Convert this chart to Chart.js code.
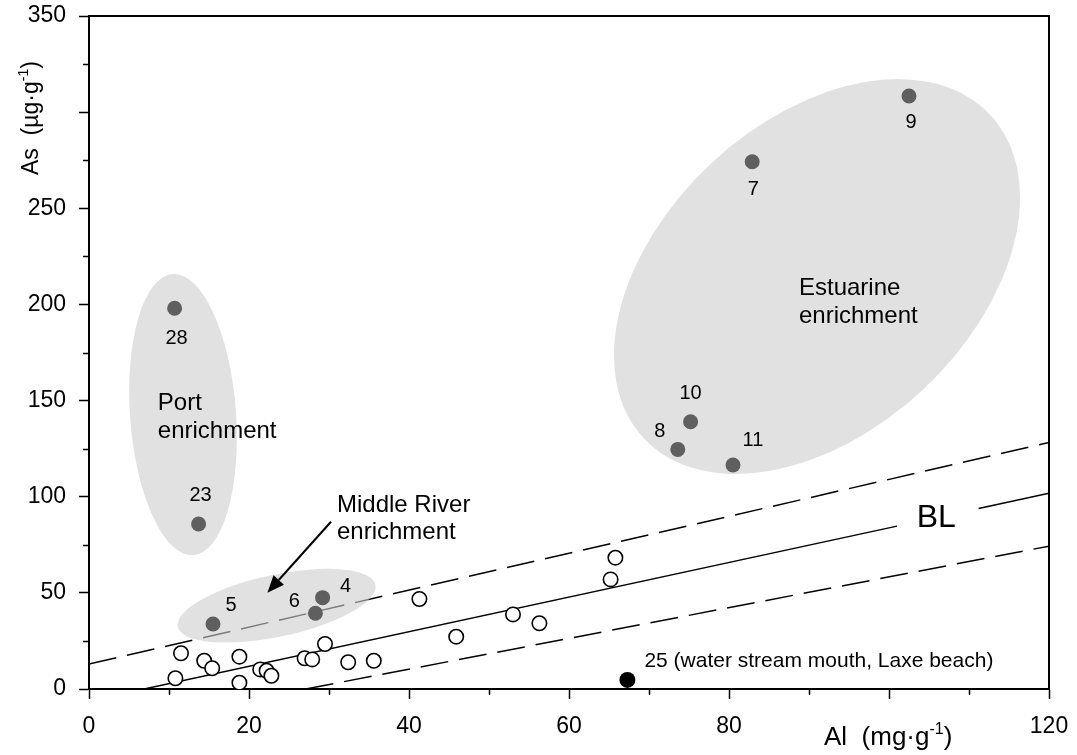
<!DOCTYPE html>
<html><head><meta charset="utf-8">
<script src="https://cdn.jsdelivr.net/npm/chart.js@4.4.0/dist/chart.umd.min.js"></script>
<style>html,body{margin:0;padding:0;background:#fff;}#wrap{width:1077px;height:755px;}</style>
</head><body><div id="wrap"><canvas id="c" width="1077" height="755"></canvas></div>
<script>
const FONT = '"Liberation Sans", Arial, Helvetica, sans-serif';

// Axis ticks (empty label = tick mark without label)
const xTicks = [0, 20, 40, 60, 80, 100, 120];
const xTickLabels = ['0', '20', '40', '60', '80', '', '120'];
const xMinor = [10, 30, 50, 70, 90, 110];
const yTicks = [0, 50, 100, 150, 200, 250, 300, 350];
const yTickLabels = ['0', '50', '100', '150', '200', '250', '', '350'];
const yMinor = [25, 75, 125, 175, 225, 275, 325];

// Background samples (open circles)
const bgAl = [10.8, 11.5, 14.4, 15.4, 18.8, 18.8, 21.4, 22.2, 22.8, 26.95, 27.9, 29.5, 32.4, 35.6, 41.3, 45.9, 53.0, 56.3, 65.2, 65.8];
const bgAs = [5.6, 18.6, 14.7, 10.8, 16.8, 3.3, 10.2, 9.5, 6.9, 16.0, 15.4, 23.4, 13.9, 14.7, 46.8, 27.2, 38.8, 34.2, 57.0, 68.3];

// Enriched samples (dark grey)
const enrIds = ['28', '23', '5', '6', '4', '8', '10', '11', '7', '9'];
const enrAl = [10.7, 13.7, 15.5, 28.3, 29.2, 73.6, 75.2, 80.5, 82.9, 102.5];
const enrAs = [198.0, 85.8, 33.8, 39.4, 47.5, 124.6, 139.0, 116.5, 274.2, 308.4];

// Sample 25 (black)
const s25Label = '25 (water stream mouth, Laxe beach)';
const s25Al = [67.3];
const s25As = [4.7];

// Baseline (BL) and its limits, endpoints (null = gap for label)
const blAl = [6.9, 101.0, 106.0, 111.2, 120];
const blAs = [0, 84.7, null, 93.9, 101.8];
const upAl = [0, 120];
const upAs = [13.0, 128.2];
const loAl = [27.1, 120];
const loAs = [0, 74.3];

// ---- styling / annotation config (not data) ----
const labelOffsets = {
  '28': [2, 30], '23': [2, -29], '5': [18, -19], '6': [-21, -12], '4': [23, -11],
  '8': [-18, -18], '10': [0, -28], '11': [20, -25], '7': [1, 28], '9': [2, 26]
};
const ellipses = [
  {al: 91.0, as: 214.5, rx: 237, ry: 155, rot: -43},
  {al: 11.75, as: 142.7, rx: 53, ry: 141, rot: -4.2},
  {al: 23.46, as: 43.3, rx: 101, ry: 31, rot: -12}
];
const notes = [
  {lines: ['Estuarine', 'enrichment'], al: 88.75, as: 208.5, lh: 28.5},
  {lines: ['Port', 'enrichment'], al: 8.6, as: 148.7, lh: 28.5},
  {lines: ['Middle River', 'enrichment'], al: 31.0, as: 95.7, lh: 27}
];
const arrow = {fromAl: 30.25, fromAs: 87.0, toAl: 22.3, toAs: 50.1};
const blText = {text: 'BL', al: 105.9, as: 88.9};

const pts = (xs, ys) => xs.map((x, i) => ({x: x, y: ys[i]}));

function drawParts(ctx, x, y, parts) {
  let cx = x;
  parts.forEach(p => {
    ctx.font = p.size + 'px ' + FONT;
    ctx.fillText(p.t, cx, y + (p.dy || 0));
    cx += ctx.measureText(p.t).width;
  });
}

function noPad(s) { s.paddingTop = 0; s.paddingBottom = 0; s.paddingLeft = 0; s.paddingRight = 0; }

const decor = {
  id: 'decor',
  afterDatasetDraw(chart, args) {
    if (chart.data.datasets[args.index].id !== 'BL') return;
    const ctx = chart.ctx, xs = chart.scales.x, ys = chart.scales.y, ca = chart.chartArea;
    ctx.save();
    ctx.beginPath();
    ctx.rect(ca.left, ca.top, ca.right - ca.left, ca.bottom - ca.top);
    ctx.clip();
    ctx.fillStyle = 'rgba(205,205,205,0.6)';
    ellipses.forEach(e => {
      ctx.beginPath();
      ctx.ellipse(xs.getPixelForValue(e.al), ys.getPixelForValue(e.as), e.rx, e.ry, e.rot * Math.PI / 180, 0, Math.PI * 2);
      ctx.fill();
    });
    ctx.restore();
  },
  afterDraw(chart) {
    const ctx = chart.ctx, xs = chart.scales.x, ys = chart.scales.y, ca = chart.chartArea;
    ctx.save();
    ctx.strokeStyle = '#000';
    ctx.fillStyle = '#000';
    // frame top/right
    ctx.lineWidth = 2;
    ctx.beginPath();
    ctx.moveTo(ca.left - 1, ca.top); ctx.lineTo(ca.right, ca.top); ctx.lineTo(ca.right, ca.bottom);
    ctx.stroke();
    // minor ticks
    ctx.lineWidth = 1.5;
    xMinor.forEach(v => {
      const px = Math.round(xs.getPixelForValue(v)) + 0.5;
      ctx.beginPath(); ctx.moveTo(px, ca.bottom); ctx.lineTo(px, ca.bottom + 6); ctx.stroke();
    });
    yMinor.forEach(v => {
      const py = Math.round(ys.getPixelForValue(v)) + 0.5;
      ctx.beginPath(); ctx.moveTo(ca.left - 6, py); ctx.lineTo(ca.left, py); ctx.stroke();
    });
    // point labels
    ctx.textAlign = 'center';
    ctx.textBaseline = 'middle';
    ctx.font = '20px ' + FONT;
    const meta = chart.getDatasetMeta(0);
    enrIds.forEach((id, i) => {
      const el = meta.data[i];
      const o = labelOffsets[id];
      ctx.fillText(id, el.x + o[0], el.y + o[1]);
    });
    const m25 = chart.getDatasetMeta(2).data[0];
    ctx.textAlign = 'left';
    ctx.font = '21px ' + FONT;
    ctx.fillText(s25Label, m25.x + 17, m25.y - 19);
    // group notes
    ctx.font = '24px ' + FONT;
    notes.forEach(n => {
      const x = xs.getPixelForValue(n.al), y = ys.getPixelForValue(n.as);
      n.lines.forEach((l, k) => ctx.fillText(l, x, y + k * n.lh));
    });
    // BL label
    ctx.textAlign = 'center';
    ctx.font = '32px ' + FONT;
    ctx.fillText(blText.text, xs.getPixelForValue(blText.al), ys.getPixelForValue(blText.as));
    // arrow
    const x1 = xs.getPixelForValue(arrow.fromAl), y1 = ys.getPixelForValue(arrow.fromAs);
    const x2 = xs.getPixelForValue(arrow.toAl), y2 = ys.getPixelForValue(arrow.toAs);
    const ang = Math.atan2(y2 - y1, x2 - x1);
    const hl = 17, hw = 7;
    const bx = x2 - hl * Math.cos(ang), by = y2 - hl * Math.sin(ang);
    ctx.lineWidth = 2;
    ctx.beginPath(); ctx.moveTo(x1, y1); ctx.lineTo(bx, by); ctx.stroke();
    ctx.beginPath();
    ctx.moveTo(x2, y2);
    ctx.lineTo(bx + hw * Math.sin(ang), by - hw * Math.cos(ang));
    ctx.lineTo(bx - hw * Math.sin(ang), by + hw * Math.cos(ang));
    ctx.closePath(); ctx.fill();
    // axis titles
    ctx.textAlign = 'left';
    ctx.textBaseline = 'alphabetic';
    drawParts(ctx, 824, 745, [{t: 'Al  (mg\u00B7g', size: 26}, {t: '-1', size: 16, dy: -11}, {t: ')', size: 26}]);
    ctx.save();
    ctx.translate(38, 175);
    ctx.rotate(-Math.PI / 2);
    drawParts(ctx, 0, 0, [{t: 'As  (\u00B5g\u00B7g', size: 23}, {t: '-1', size: 14, dy: -10}, {t: ')', size: 23}]);
    ctx.restore();
    ctx.restore();
  }
};

new Chart(document.getElementById('c'), {
  type: 'scatter',
  data: {
    datasets: [
      {id: 'enr', data: pts(enrAl, enrAs), pointRadius: 7.5, pointHoverRadius: 7.5, backgroundColor: '#5f5f5f', borderWidth: 0, order: 0},
      {id: 'bg', data: pts(bgAl, bgAs), pointRadius: 7.2, pointHoverRadius: 7.2, backgroundColor: '#ffffff', borderColor: '#000', borderWidth: 1.6, order: 1},
      {id: 's25', data: pts(s25Al, s25As), pointRadius: 8, pointHoverRadius: 8, backgroundColor: '#000', borderWidth: 0, order: 2},
      {id: 'BL', data: pts(blAl, blAs), showLine: true, spanGaps: false, pointRadius: 0, borderColor: '#000', borderWidth: 1.5, order: 10},
      {id: 'up', data: pts(upAl, upAs), showLine: true, pointRadius: 0, borderColor: '#000', borderWidth: 1.5, borderDash: [28, 11], order: 11},
      {id: 'lo', data: pts(loAl, loAs), showLine: true, pointRadius: 0, borderColor: '#000', borderWidth: 1.5, borderDash: [28, 11], order: 12}
    ]
  },
  options: {
    responsive: false,
    animation: false,
    events: [],
    layout: {autoPadding: false, padding: {left: 0, right: 28, top: 16, bottom: 0}},
    plugins: {legend: {display: false}, tooltip: {enabled: false}},
    scales: {
      x: {
        type: 'linear', min: 0, max: 120,
        afterBuildTicks: s => { s.ticks = xTicks.map(v => ({value: v})); },
        afterFit: s => { s.height = 66; noPad(s); },
        grid: {display: true, drawOnChartArea: false, drawTicks: true, tickLength: 10, tickColor: '#000', tickWidth: 1.5},
        border: {display: true, color: '#000', width: 2},
        ticks: {color: '#000', font: {family: FONT, size: 23}, padding: 14, maxRotation: 0, autoSkip: false,
          callback: v => { const i = xTicks.indexOf(v); return i >= 0 ? xTickLabels[i] : ''; }}
      },
      y: {
        type: 'linear', min: 0, max: 350,
        afterBuildTicks: s => { s.ticks = yTicks.map(v => ({value: v})); },
        afterFit: s => { s.width = 89; noPad(s); },
        grid: {display: true, drawOnChartArea: false, drawTicks: true, tickLength: 10, tickColor: '#000', tickWidth: 1.5},
        border: {display: true, color: '#000', width: 2},
        ticks: {color: '#000', font: {family: FONT, size: 23}, padding: 13, autoSkip: false,
          callback: v => { const i = yTicks.indexOf(v); return i >= 0 ? yTickLabels[i] : ''; }}
      }
    }
  },
  plugins: [decor]
});
</script>
</body></html>
